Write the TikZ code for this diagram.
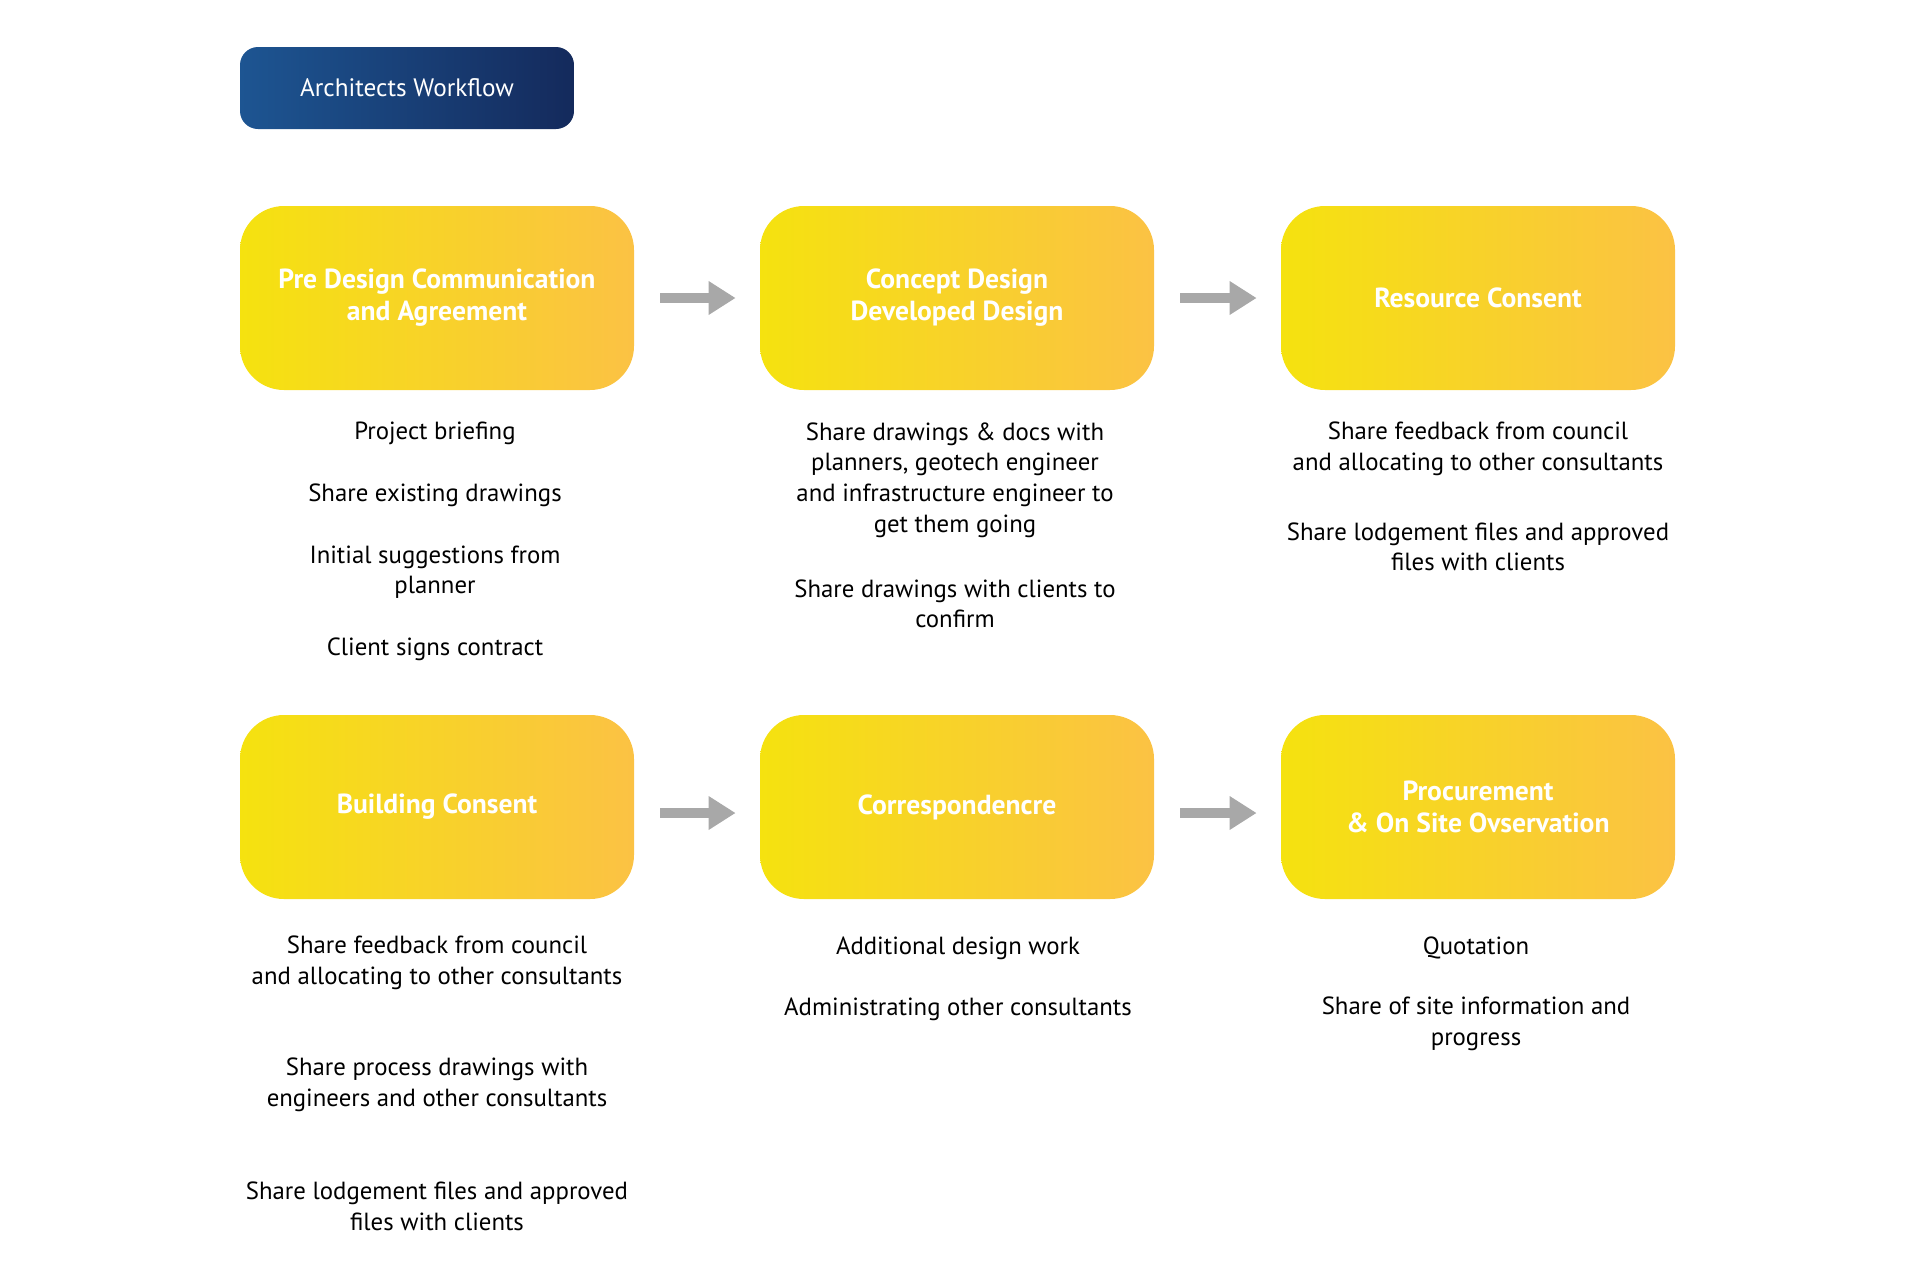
\documentclass[tikz,border=0pt]{standalone}
\usepackage{fontspec}
\setmainfont{PT Sans}
\usepackage{xcolor}
\usetikzlibrary{arrows.meta}

\definecolor{stageleft}{HTML}{F5E20F}
\definecolor{stageright}{HTML}{FBC244}
\definecolor{navyleft}{HTML}{1D5592}
\definecolor{navyright}{HTML}{142A5C}
\definecolor{flowgray}{HTML}{A8A8A8}

\tikzset{
  stage/.style={rounded corners=22pt, minimum width=197pt, minimum height=92pt,
    left color=stageleft, right color=stageright, text=white, align=center,
    font=\bfseries\fontsize{13.8}{16}\selectfont},
  heading/.style={rounded corners=9pt, minimum width=167pt, minimum height=41pt,
    left color=navyleft, right color=navyright, text=white,
    font=\fontsize{12.6}{15}\selectfont},
  item/.style={align=center, font=\fontsize{12.4}{15.3}\selectfont},
  flow/.style={-{Triangle[length=13.5pt,width=16pt]}, line width=5pt, draw=flowgray,
    shorten <=13pt, shorten >=12pt},
}

\begin{document}
\begin{tikzpicture}[x=0.5pt,y=-0.5pt]
\useasboundingbox (0,0) rectangle (1920,1280);

\node[heading] (title) at (407,88) {Architects Workflow};

% first row
\node[stage] (pre) at (437,298) {Pre Design Communication\\and Agreement};
\node[stage] (concept) at (957,298) {Concept Design\\Developed Design};
\node[stage] (resource) at (1478,298) {Resource Consent};

% second row
\node[stage] (building) at (437,807) {Building Consent};
\node[stage] (corresp) at (957,807) {Correspondencre};
\node[stage] (procure) at (1478,807) {Procurement\\\& On Site Ovservation};

\foreach \a/\b in {pre/concept,concept/resource}
  \draw[flow] (\a) -- (\b);
\foreach \a/\b in {building/corresp,corresp/procure}
  \draw[flow] ([yshift=-3pt]\a.east) -- ([yshift=-3pt]\b.west);

% items under pre design
\node[item] (pre1) at (435,433) {Project briefing};
\node[item] (pre2) at (435,495) {Share existing drawings};
\node[item] (pre3) at (435,572) {Initial suggestions from\\planner};
\node[item] (pre4) at (435,649) {Client signs contract};

% items under concept design
\node[item] (con1) at (955,480) {Share drawings \& docs with\\planners, geotech engineer\\and infrastructure engineer to\\get them going};
\node[item] (con2) at (955,604) {Share drawings with clients to\\confirm};

% items under resource consent
\node[item] (res1) at (1478,449) {Share feedback from council\\and allocating to other consultants};
\node[item] (res2) at (1478,547) {Share lodgement files and approved\\files with clients};

% items under building consent
\node[item] (bui1) at (437,963) {Share feedback from council\\and allocating to other consultants};
\node[item] (bui2) at (437,1085) {Share process drawings with\\engineers and other consultants};
\node[item] (bui3) at (437,1206) {Share lodgement files and approved\\files with clients};

% items under correspondence
\node[item] (cor1) at (958,948) {Additional design work};
\node[item] (cor2) at (958,1009) {Administrating other consultants};

% items under procurement
\node[item] (pro1) at (1476,948) {Quotation};
\node[item] (pro2) at (1476,1024) {Share of site information and\\progress};
\end{tikzpicture}
\end{document}
